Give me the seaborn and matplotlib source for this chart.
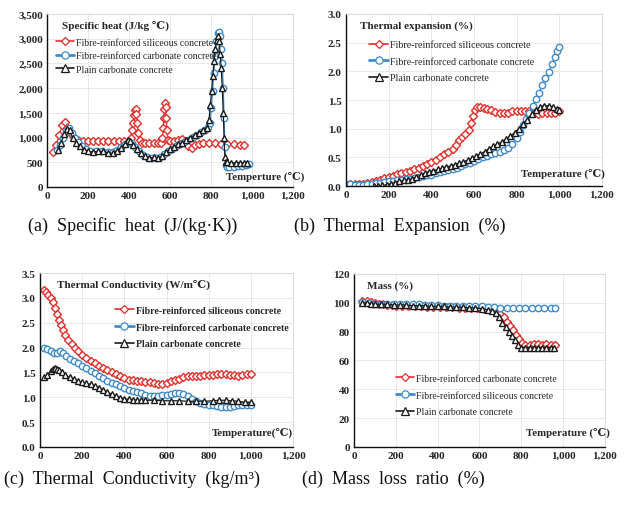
import matplotlib
matplotlib.use("Agg")
import matplotlib.pyplot as plt
from matplotlib.ticker import MultipleLocator, FuncFormatter
from matplotlib.lines import Line2D
import seaborn as sns
import pandas as pd

# ---------------- (a) Specific heat (J/kg ℃) ----------------
sh_sil_T = [30, 45, 60, 75, 88, 100, 115, 130, 150, 175, 200, 225, 250, 275, 300, 325, 350, 375, 400,
            410, 415, 420, 424, 428, 432, 436, 440, 445, 452, 465, 480, 500, 520, 540, 555, 563, 567,
            570, 573, 576, 579, 582, 585, 590, 600, 620, 640, 660, 675, 690, 705, 720, 740, 760, 790,
            820, 850, 880, 910, 940, 960]
sh_sil = [700, 850, 1050, 1250, 1310, 1200, 1080, 1020, 960, 940, 930, 930, 935, 940, 935, 930, 935, 940, 940,
          1000, 1150, 1300, 1450, 1560, 1580, 1480, 1300, 1100, 950, 900, 885, 880, 880, 890, 900, 1000, 1200,
          1400, 1580, 1700, 1620, 1400, 1150, 960, 930, 940, 950, 970, 940, 830, 780, 840, 870, 880, 880,
          880, 875, 870, 860, 855, 855]

sh_carb_T = [50, 65, 80, 95, 108, 120, 135, 150, 170, 190, 210, 240, 270, 300, 320, 340, 360, 380, 400, 415,
             430, 450, 470, 490, 510, 530, 550, 570, 590, 610, 630, 650, 670, 690, 710, 730, 750, 770, 785,
             795, 802, 808, 814, 820, 826, 832, 838, 844, 850, 855, 860, 864, 868, 872, 878, 890, 910, 930,
             950, 970, 985]
sh_carb = [750, 850, 1000, 1130, 1190, 1100, 1000, 920, 830, 760, 730, 730, 720, 700, 710, 750, 800, 860, 920, 880,
           800, 720, 650, 600, 590, 590, 600, 660, 720, 770, 820, 870, 920, 960, 1010, 1060, 1110, 1160, 1220,
           1300, 1600, 1950, 2300, 2650, 2950, 3120, 3140, 3050, 2800, 2500, 2000, 1400, 800, 450, 400, 400, 410, 420,
           430, 450, 460]

sh_plain_T = [55, 70, 85, 100, 110, 125, 140, 160, 180, 200, 225, 250, 275, 300, 320, 340, 360, 380, 395, 405,
              420, 440, 460, 480, 500, 520, 540, 560, 580, 600, 620, 640, 660, 680, 700, 720, 740, 760, 780,
              790, 797, 803, 809, 815, 821, 827, 833, 839, 845, 850, 855, 860, 864, 868, 872, 880, 900, 920,
              940, 960, 975]
sh_plain = [750, 900, 1080, 1180, 1150, 1000, 900, 820, 750, 720, 710, 720, 720, 690, 680, 730, 790, 870, 950, 930,
            850, 760, 690, 620, 590, 600, 590, 620, 700, 760, 810, 860, 900, 950, 1000, 1050, 1100, 1150, 1200,
            1350, 1650, 1950, 2250, 2550, 2800, 2980, 3050, 2950, 2700, 2400, 2000, 1500, 1000, 600, 500, 500, 490, 490,
            490, 490, 480]

# ---------------- (b) Thermal expansion (%) ----------------
te_sil_T = [20, 40, 60, 80, 100, 120, 140, 160, 180, 200, 220, 240, 260, 280, 300, 320, 340, 360, 380, 400,
            420, 440, 460, 480, 500, 515, 530, 545, 560, 575, 585, 595, 605, 615, 630, 645, 660, 680, 700,
            720, 740, 760, 780, 800, 820, 840, 860, 880, 900, 920, 940, 960, 980, 1000]
te_sil = [0.03, 0.03, 0.03, 0.04, 0.05, 0.07, 0.09, 0.11, 0.14, 0.16, 0.18, 0.21, 0.23, 0.25, 0.27, 0.29, 0.32,
          0.35, 0.38, 0.42, 0.46, 0.50, 0.55, 0.60, 0.65, 0.72, 0.80, 0.86, 0.90, 0.98, 1.10, 1.22, 1.33, 1.37,
          1.37, 1.36, 1.35, 1.32, 1.29, 1.28, 1.28, 1.28, 1.30, 1.31, 1.31, 1.31, 1.30, 1.27, 1.26, 1.27, 1.27,
          1.27, 1.28, 1.30]

te_carb_T = [0, 20, 40, 60, 80, 100, 120, 140, 160, 180, 200, 220, 240, 260, 280, 300, 320, 340, 360, 380, 400,
             420, 440, 460, 480, 500, 520, 540, 560, 580, 600, 620, 640, 660, 680, 700, 720, 740, 760, 780,
             800, 815, 830, 845, 860, 875, 890, 905, 920, 935, 950, 965, 980, 990, 1000]
te_carb = [0.03, 0.03, 0.02, 0.02, 0.02, 0.03, 0.04, 0.05, 0.06, 0.07, 0.08, 0.09, 0.10, 0.11, 0.12, 0.13, 0.14,
           0.16, 0.18, 0.19, 0.20, 0.22, 0.24, 0.26, 0.28, 0.30, 0.32, 0.35, 0.38, 0.41, 0.44, 0.47, 0.50, 0.53,
           0.56, 0.58, 0.60, 0.62, 0.66, 0.73, 0.83, 0.95, 1.06, 1.17, 1.28, 1.40, 1.52, 1.63, 1.76, 1.88, 1.98,
           2.12, 2.25, 2.36, 2.43]

te_plain_T = [130, 150, 170, 190, 210, 230, 250, 270, 290, 310, 330, 350, 370, 390, 410, 430, 450, 470, 490, 510,
              530, 550, 570, 590, 610, 630, 650, 670, 690, 710, 730, 750, 770, 790, 810, 830, 850, 870, 890,
              910, 930, 950, 970, 990, 1000]
te_plain = [0.0, 0.0, 0.01, 0.02, 0.04, 0.06, 0.08, 0.10, 0.11, 0.13, 0.16, 0.19, 0.22, 0.25, 0.27, 0.29, 0.31,
            0.33, 0.35, 0.37, 0.40, 0.42, 0.45, 0.48, 0.52, 0.56, 0.60, 0.65, 0.69, 0.73, 0.77, 0.82, 0.87, 0.93,
            1.00, 1.08, 1.16, 1.25, 1.33, 1.38, 1.40, 1.40, 1.38, 1.34, 1.32]

# ---------------- (c) Thermal conductivity (W/m℃) ----------------
tc_sil_T = [20, 30, 40, 50, 60, 70, 80, 90, 100, 110, 120, 135, 150, 165, 180, 200, 220, 240, 260, 280, 300,
            320, 340, 360, 380, 400, 420, 440, 460, 480, 500, 520, 540, 560, 580, 600, 620, 640, 660, 680,
            700, 720, 740, 760, 780, 800, 820, 840, 860, 880, 900, 920, 940, 960, 980, 1000]
tc_sil = [3.15, 3.12, 3.05, 3.00, 2.92, 2.80, 2.68, 2.55, 2.45, 2.35, 2.25, 2.15, 2.07, 2.00, 1.93, 1.86, 1.79,
          1.73, 1.68, 1.63, 1.58, 1.54, 1.50, 1.46, 1.42, 1.38, 1.35, 1.34, 1.33, 1.32, 1.31, 1.30, 1.28, 1.27,
          1.26, 1.28, 1.32, 1.35, 1.37, 1.40, 1.42, 1.43, 1.43, 1.43, 1.44, 1.44, 1.45, 1.46, 1.46, 1.46, 1.45,
          1.44, 1.43, 1.45, 1.46, 1.47]

tc_carb_T = [20, 35, 50, 65, 80, 95, 110, 125, 140, 160, 180, 200, 220, 240, 260, 280, 300, 320, 340, 360, 380,
             400, 420, 440, 460, 480, 500, 520, 540, 560, 580, 600, 620, 640, 660, 680, 700, 720, 740, 760,
             780, 800, 820, 840, 860, 880, 900, 920, 940, 960, 980, 1000]
tc_carb = [2.00, 1.97, 1.93, 1.90, 1.90, 1.93, 1.90, 1.84, 1.78, 1.73, 1.68, 1.63, 1.58, 1.53, 1.48, 1.43, 1.38,
           1.33, 1.29, 1.26, 1.22, 1.18, 1.15, 1.12, 1.10, 1.08, 1.05, 1.03, 1.03, 1.03, 1.04, 1.05, 1.07, 1.09,
           1.09, 1.06, 1.02, 0.97, 0.92, 0.88, 0.86, 0.85, 0.84, 0.82, 0.81, 0.80, 0.80, 0.82, 0.84, 0.85, 0.85,
           0.85]

tc_plain_T = [20, 35, 50, 60, 70, 80, 90, 105, 120, 140, 160, 180, 200, 220, 240, 260, 280, 300, 320, 340, 360,
              380, 400, 420, 440, 460, 480, 500, 540, 580, 620, 660, 700, 740, 780, 820, 850, 880, 910, 940,
              970, 1000]
tc_plain = [1.40, 1.45, 1.52, 1.56, 1.58, 1.57, 1.54, 1.50, 1.45, 1.40, 1.36, 1.33, 1.30, 1.28, 1.26, 1.23, 1.18,
            1.14, 1.10, 1.06, 1.02, 0.99, 0.97, 0.96, 0.95, 0.94, 0.94, 0.94, 0.94, 0.93, 0.93, 0.93, 0.92, 0.92,
            0.92, 0.93, 0.94, 0.94, 0.93, 0.92, 0.90, 0.90]

# ---------------- (d) Mass (%) ----------------
ms_carb_T = [40, 60, 80, 100, 120, 140, 160, 180, 200, 230, 260, 290, 320, 350, 380, 410, 440, 470, 500, 530,
             560, 590, 620, 650, 680, 700, 715, 730, 745, 760, 775, 790, 805, 820, 840, 860, 880, 900, 920,
             940, 960]
ms_carb = [101, 101, 100.5, 100, 99, 99, 98.5, 98.5, 98, 98, 97.5, 97.5, 97.5, 97, 97, 97, 97, 97, 96.5, 96.5,
           96.5, 96.5, 96, 95.5, 94, 92, 90, 87, 84, 81, 78, 75, 72, 71, 71, 71.5, 71.5, 71, 71.5, 71, 71]

ms_sil_T = [40, 70, 100, 130, 160, 190, 220, 250, 280, 310, 340, 370, 400, 430, 460, 490, 520, 550, 580, 610,
            640, 670, 700, 730, 760, 790, 820, 850, 880, 910, 940, 960]
ms_sil = [100.5, 100, 99.5, 99.5, 99.5, 99.5, 99.5, 99, 99, 99, 98.5, 98.5, 98.5, 98, 98, 98, 98, 97.5, 97.5,
          97.5, 97, 97, 96.5, 96.5, 96.5, 96.5, 96.5, 96.5, 96.5, 96.5, 96.5, 96.5]

ms_plain_T = [40, 60, 80, 100, 130, 160, 190, 220, 250, 280, 310, 340, 370, 400, 430, 460, 490, 520, 550, 580,
              610, 640, 660, 680, 695, 710, 725, 740, 755, 770, 785, 800, 820, 840, 860, 880, 900, 920, 940, 955]
ms_plain = [100, 100, 99.5, 99, 99, 99, 98.5, 98.5, 98.5, 98, 98, 98, 97.5, 97.5, 97.5, 97, 97, 97, 96.5, 96.5,
            96, 95, 94.5, 93, 90, 86, 83, 80, 77, 74, 71, 69, 69, 69, 69, 69, 69, 69, 69, 69]

LBL_SIL = "Fibre-reinforced siliceous concrete"
LBL_CARB = "Fibre-reinforced carbonate concrete"
LBL_PLAIN = "Plain carbonate concrete"

RED = "#e0302c"
BLUE = "#3f8ccc"
BLACK = "#1a1a1a"

SERIF = ["Liberation Serif", "DejaVu Serif", "Noto Sans CJK SC"]

sns.set_theme(style="white")
plt.rcParams["font.family"] = SERIF

STYLE = {
    "sil": dict(color=RED, marker="D", ms=3.8),
    "carb": dict(color=BLUE, marker="o", ms=4.6),
    "plain": dict(color=BLACK, marker="^", ms=4.6),
}


def draw(ax, T, v, kind):
    st = STYLE[kind]
    df = pd.DataFrame({"T": T, "v": v})
    sns.lineplot(data=df, x="T", y="v", ax=ax, estimator=None, sort=False,
                 color=st["color"], lw=0.9, marker=st["marker"], markersize=st["ms"],
                 markerfacecolor="white", markeredgecolor=st["color"], markeredgewidth=1.0,
                 legend=False)


def handle(kind, label):
    st = STYLE[kind]
    return Line2D([], [], color=st["color"], lw=2.0 if kind == "carb" else 1.2,
                  marker=st["marker"], markersize=st["ms"] + 0.6, markerfacecolor="white",
                  markeredgecolor=st["color"], markeredgewidth=0.9, label=label)


def style_axes(ax, ymax, ystep, yfmt, title, xlabel, title_xy, xlabel_xy):
    ax.set_xlim(0, 1200)
    ax.set_ylim(0, ymax)
    ax.xaxis.set_major_locator(MultipleLocator(200))
    ax.xaxis.set_minor_locator(MultipleLocator(40))
    ax.yaxis.set_major_locator(MultipleLocator(ystep))
    ax.yaxis.set_minor_locator(MultipleLocator(ystep / 5))
    ax.xaxis.set_major_formatter(FuncFormatter(lambda x, p: f"{x:,.0f}"))
    ax.yaxis.set_major_formatter(FuncFormatter(yfmt))
    ax.set_xlabel("")
    ax.set_ylabel("")
    ax.grid(True, which="major", color="#e4e4e4", lw=0.6)
    for s in ("top", "right"):
        ax.spines[s].set_color("#d6d6d6")
        ax.spines[s].set_linewidth(0.6)
    for s in ("left", "bottom"):
        ax.spines[s].set_color("#111111")
        ax.spines[s].set_linewidth(1.0)
    ax.tick_params(which="major", direction="in", length=3.5, width=0.8, color="#111111",
                   labelsize=8, pad=3, top=False, right=False)
    ax.tick_params(which="minor", direction="in", length=2, width=0.6, color="#111111",
                   top=False, right=False)
    for lab in ax.get_xticklabels() + ax.get_yticklabels():
        lab.set_fontweight("bold")
        lab.set_family(SERIF)
    ax.text(title_xy[0], title_xy[1], title, transform=ax.transAxes, fontsize=8,
            fontweight="bold", ha="left", va="center", family=SERIF)
    ax.text(xlabel_xy[0], xlabel_xy[1], xlabel, transform=ax.transAxes, fontsize=7.8,
            fontweight="bold", ha="right", va="center", family=SERIF, zorder=5)


def add_legend(ax, entries, anchor, bold=False, size=7, spacing=0.5):
    hs = [handle(k, l) for k, l in entries]
    leg = ax.legend(handles=hs, loc="upper left", bbox_to_anchor=anchor, frameon=False,
                    handlelength=1.9, handletextpad=0.2, labelspacing=spacing, borderaxespad=0,
                    numpoints=1, prop=dict(family=SERIF, size=size,
                                          weight="bold" if bold else "normal"))
    return leg


fig = plt.figure(figsize=(6.24, 5.10), dpi=100)
fig.patch.set_facecolor("white")

ax_a = fig.add_axes([0.0753, 0.6314, 0.3942, 0.3392])
ax_b = fig.add_axes([0.5545, 0.6333, 0.4102, 0.3373])
ax_c = fig.add_axes([0.0641, 0.1216, 0.4055, 0.3411])
ax_d = fig.add_axes([0.5673, 0.1216, 0.4022, 0.3392])

# (a)
draw(ax_a, sh_sil_T, sh_sil, "sil")
draw(ax_a, sh_carb_T, sh_carb, "carb")
draw(ax_a, sh_plain_T, sh_plain, "plain")
style_axes(ax_a, 3500, 500, lambda y, p: f"{y:,.0f}", "Specific heat (J/kg \u2103)",
           "Temperture (\u2103)", (0.06, 0.935), (1.045, 0.065))
add_legend(ax_a, [("sil", LBL_SIL), ("carb", LBL_CARB), ("plain", LBL_PLAIN)], (0.02, 0.885),
           spacing=0.45)

# (b)
draw(ax_b, te_sil_T, te_sil, "sil")
draw(ax_b, te_carb_T, te_carb, "carb")
draw(ax_b, te_plain_T, te_plain, "plain")
style_axes(ax_b, 3.0, 0.5, lambda y, p: f"{y:.1f}", "Thermal expansion (%)",
           "Temperature (\u2103)", (0.055, 0.935), (1.01, 0.075))
add_legend(ax_b, [("sil", LBL_SIL), ("carb", LBL_CARB), ("plain", LBL_PLAIN)], (0.075, 0.87),
           size=7.2, spacing=0.75)

# (c)
draw(ax_c, tc_sil_T, tc_sil, "sil")
draw(ax_c, tc_carb_T, tc_carb, "carb")
draw(ax_c, tc_plain_T, tc_plain, "plain")
style_axes(ax_c, 3.5, 0.5, lambda y, p: f"{y:.1f}", "Thermal Conductivity (W/m\u2103)",
           "Temperature(\u2103)", (0.067, 0.935), (1.0, 0.086))
add_legend(ax_c, [("sil", LBL_SIL), ("carb", LBL_CARB), ("plain", LBL_PLAIN)], (0.28, 0.835), bold=True,
           size=7.1, spacing=0.8)

# (d)
draw(ax_d, ms_carb_T, ms_carb, "sil")
draw(ax_d, ms_sil_T, ms_sil, "carb")
draw(ax_d, ms_plain_T, ms_plain, "plain")
style_axes(ax_d, 120, 20, lambda y, p: f"{y:.0f}", "Mass (%)",
           "Temperature (\u2103)", (0.05, 0.935), (1.02, 0.087))
add_legend(ax_d, [("sil", LBL_CARB), ("carb", LBL_SIL), ("plain", LBL_PLAIN)], (0.15, 0.445),
           spacing=0.8)

# captions under each panel
cap = dict(fontsize=13, family=SERIF, ha="center", va="center", color="#111111")
fig.text(0.212, 0.557, "(a)  Specific  heat  (J/(kg\u00b7K))", **cap)
fig.text(0.641, 0.557, "(b)  Thermal  Expansion  (%)", **cap)
fig.text(0.212, 0.060, "(c)  Thermal  Conductivity  (kg/m\u00b3)", **cap)
fig.text(0.631, 0.060, "(d)  Mass  loss  ratio  (%)", **cap)

fig.savefig("out.png", dpi=100, facecolor="white")
